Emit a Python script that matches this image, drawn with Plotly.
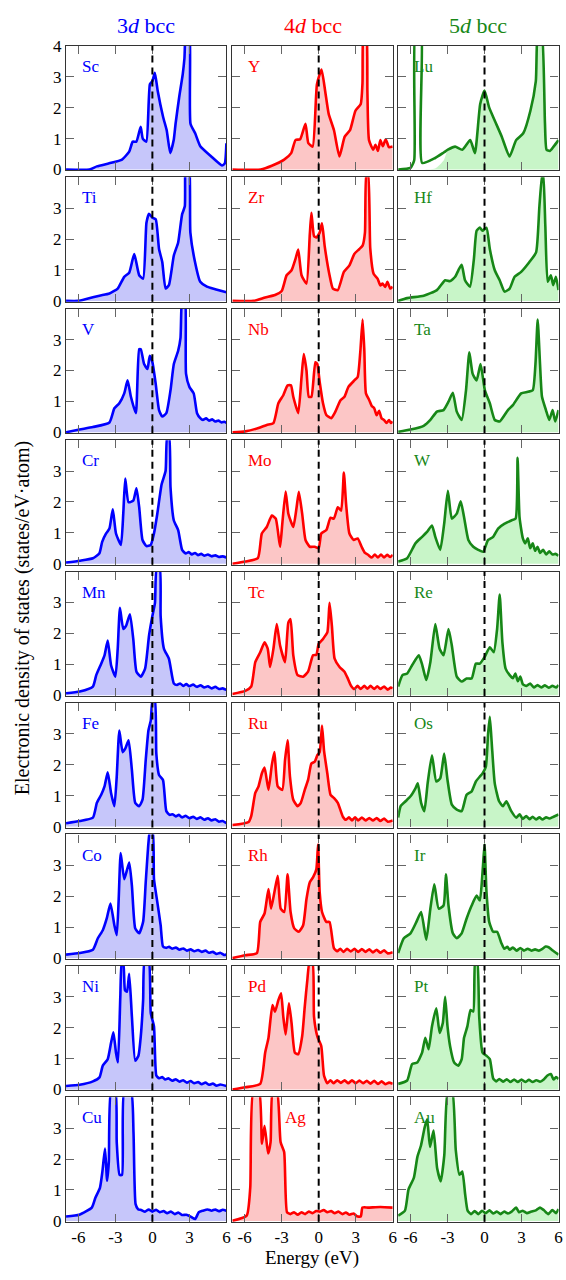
import plotly.graph_objects as go

# ---------------- data (energy in eV, DOS in states/eV·atom) ----------------
E_Sc = [-7, -5.1, -4.5, -3.5, -2.46, -1.88, -1.59, -1.3, -0.95, -0.78, -0.49, -0.2, 0, 0.2, 0.43, 0.87, 1.16, 1.45, 1.73, 1.88, 2.17, 2.46, 2.6, 2.75, 2.98, 3.09, 3.47, 3.9, 4.77, 5.64, 5.87, 6.0]
D_Sc = [0, 0, 0.1, 0.2, 0.32, 0.58, 0.9, 0.9, 1.38, 1.0, 0.9, 2.76, 2.86, 3.13, 2.55, 1.7, 1.27, 0.53, 0.95, 1.48, 2.33, 3.08, 3.6, 4.6, 4.6, 1.48, 1.17, 0.74, 0.42, 0.13, 0.2, 0.85]

E_Y = [-7, -4.7, -3.8, -2.8, -2.23, -1.88, -1.5, -1.07, -0.84, -0.49, -0.14, 0.23, 0.52, 0.81, 1.24, 1.68, 2.11, 2.54, 2.98, 3.41, 3.55, 3.65, 3.84, 3.95, 4.08, 4.42, 4.6, 4.8, 5.0, 5.2, 5.43, 5.7, 6.0]
D_Y = [0, 0, 0.12, 0.32, 0.53, 0.95, 0.98, 1.48, 0.85, 0.74, 2.76, 3.23, 2.55, 1.8, 1.27, 0.42, 1.06, 1.27, 1.9, 2.12, 2.8, 4.6, 4.6, 2.5, 0.95, 0.64, 0.8, 0.6, 0.95, 0.75, 0.98, 0.72, 0.74]

E_Lu = [-7, -6.0, -5.7, -5.58, -5.15, -5.05, -4.0, -3.3, -2.97, -2.38, -1.8, -1.16, -0.78, -0.35, 0, 0.38, 0.81, 1.4, 2.03, 2.56, 3.14, 3.72, 4.16, 4.35, 4.6, 4.9, 5.03, 5.3, 5.6, 6.0]
D_Lu = [0, 0.05, 0.3, 4.6, 4.6, 0.21, 0.37, 0.55, 0.64, 0.74, 0.64, 0.95, 0.53, 2.12, 2.55, 2.0, 1.6, 1.06, 0.42, 0.95, 1.17, 1.9, 2.86, 4.6, 4.6, 1.5, 0.64, 0.6, 0.74, 0.95]
D_Lu_d = [0, 0, 0, 0, 0, 0, 0.03, 0.3, 0.64, 0.74, 0.64, 0.95, 0.53, 2.12, 2.55, 2.0, 1.6, 1.06, 0.42, 0.95, 1.17, 1.9, 2.86, 4.6, 4.6, 1.5, 0.64, 0.6, 0.74, 0.95]

E_Ti = [-7, -6.03, -5.36, -4.29, -3.48, -2.81, -2.28, -1.88, -1.47, -1.07, -0.75, -0.48, -0.27, 0, 0.27, 0.54, 0.8, 1.07, 1.34, 1.74, 2.09, 2.41, 2.63, 2.72, 2.95, 3.08, 3.43, 3.88, 4.42, 5.09, 6.0]
D_Ti = [0, 0, 0.06, 0.17, 0.24, 0.4, 0.78, 0.91, 1.52, 0.83, 0.72, 2.53, 2.82, 2.69, 2.64, 1.68, 1.26, 0.4, 0.51, 1.47, 1.89, 2.8, 3.06, 4.6, 4.6, 2.21, 1.31, 0.62, 0.46, 0.38, 0.28]

E_Zr = [-7, -5.28, -4.34, -3.54, -3.0, -2.6, -2.2, -1.88, -1.66, -1.39, -0.99, -0.72, -0.59, -0.38, -0.19, 0.08, 0.27, 0.48, 0.88, 1.15, 1.55, 2.04, 2.49, 2.89, 3.3, 3.56, 3.75, 3.87, 4.0, 4.18, 4.45, 4.77, 5.0, 5.17, 5.4, 5.57, 5.8, 6.0]
D_Zr = [0, 0, 0.11, 0.19, 0.32, 0.83, 0.99, 1.36, 1.66, 0.83, 0.56, 2.16, 2.85, 2.1, 2.05, 2.21, 2.51, 1.79, 0.83, 0.4, 0.35, 0.94, 1.15, 1.52, 1.68, 1.79, 2.21, 4.1, 4.1, 1.7, 0.88, 0.72, 0.5, 0.56, 0.45, 0.62, 0.4, 0.46]

E_Hf = [-7, -6.27, -4.93, -3.86, -3.19, -2.79, -2.38, -2.12, -1.85, -1.58, -1.18, -0.86, -0.64, -0.38, -0.16, 0.16, 0.43, 0.83, 1.23, 1.63, 2.04, 2.44, 2.97, 3.64, 4.18, 4.45, 4.68, 4.75, 4.93, 5.12, 5.38, 5.57, 5.79, 6.0]
D_Hf = [0, 0.09, 0.17, 0.35, 0.67, 0.64, 0.78, 0.99, 1.17, 0.67, 0.46, 1.36, 2.27, 2.37, 2.27, 2.37, 1.68, 0.99, 0.67, 0.3, 0.4, 0.78, 0.94, 1.26, 1.57, 3.06, 4.05, 4.05, 2.43, 0.62, 0.83, 0.51, 0.78, 0.35]

E_V = [-7, -5.9, -4.82, -3.48, -3.08, -2.68, -2.28, -2.01, -1.74, -1.34, -1.07, -0.94, -0.67, -0.4, -0.21, 0, 0.27, 0.54, 0.8, 1.13, 1.47, 1.74, 2.09, 2.28, 2.45, 2.63, 2.73, 3.0, 3.35, 3.62, 3.88, 4.1, 4.35, 4.6, 4.85, 5.1, 5.35, 5.6, 5.85, 6.0]
D_V = [0, 0.09, 0.17, 0.32, 0.78, 0.94, 1.26, 1.68, 1.15, 0.62, 2.69, 2.69, 2.21, 2.05, 2.48, 2.27, 1.57, 0.72, 0.51, 0.62, 1.36, 2.21, 2.64, 3.06, 4.6, 4.6, 1.89, 1.47, 1.26, 0.62, 0.46, 0.4, 0.45, 0.38, 0.42, 0.35, 0.38, 0.32, 0.34, 0.3]

E_Nb = [-7, -5.95, -4.88, -4.21, -3.67, -3.27, -2.87, -2.52, -2.25, -2.06, -1.66, -1.39, -1.21, -0.99, -0.8, -0.59, -0.27, -0.11, 0.08, 0.35, 0.62, 1.02, 1.29, 1.77, 2.09, 2.41, 2.89, 3.16, 3.38, 3.56, 3.7, 3.83, 4.1, 4.3, 4.5, 4.7, 4.9, 5.1, 5.3, 5.5, 5.7, 5.85, 6.0]
D_Nb = [0, 0.03, 0.14, 0.24, 0.3, 0.94, 1.2, 1.52, 1.52, 1.15, 0.62, 1.79, 2.53, 2.0, 1.15, 1.15, 2.27, 2.21, 1.63, 0.94, 0.56, 0.46, 0.62, 1.04, 1.15, 1.47, 1.68, 1.79, 2.64, 3.65, 2.64, 1.26, 1.04, 0.85, 0.78, 0.55, 0.7, 0.45, 0.4, 0.3, 0.4, 0.3, 0.35]

E_Ta = [-7, -6.0, -4.93, -4.39, -3.86, -3.32, -2.92, -2.57, -2.25, -1.85, -1.5, -1.23, -0.96, -0.64, -0.32, 0.03, 0.43, 0.83, 1.23, 1.9, 2.3, 2.97, 3.51, 3.91, 4.13, 4.31, 4.5, 4.66, 4.98, 5.25, 5.52, 5.73, 6.0]
D_Ta = [0.02, 0.09, 0.21, 0.4, 0.67, 0.72, 0.99, 1.28, 0.67, 0.4, 1.36, 2.59, 1.89, 1.68, 2.21, 1.36, 0.94, 0.4, 0.35, 0.72, 0.88, 1.26, 1.31, 1.36, 2.21, 3.65, 2.21, 1.15, 0.72, 0.4, 0.72, 0.35, 0.72]

E_Cr = [-7, -5.89, -4.82, -4.29, -4.07, -3.75, -3.48, -3.21, -2.95, -2.55, -2.36, -2.2, -1.93, -1.55, -1.29, -1.07, -0.8, -0.48, -0.13, 0.13, 0.4, 0.75, 1.07, 1.2, 1.36, 1.47, 1.74, 2.09, 2.41, 2.7, 2.95, 3.2, 3.45, 3.7, 3.95, 4.2, 4.5, 4.8, 5.1, 5.4, 5.7, 6.0]
D_Cr = [0.04, 0.1, 0.18, 0.34, 0.71, 0.98, 1.14, 1.76, 0.98, 0.61, 1.62, 2.76, 1.99, 2.04, 2.44, 1.83, 0.77, 0.57, 0.61, 0.98, 1.62, 2.57, 3.0, 4.1, 4.1, 2.47, 1.4, 1.09, 0.45, 0.33, 0.38, 0.3, 0.35, 0.28, 0.32, 0.26, 0.3, 0.24, 0.27, 0.22, 0.24, 0.2]

E_Mo = [-7, -5.95, -4.93, -4.61, -4.21, -3.8, -3.48, -3.13, -2.95, -2.68, -2.46, -2.06, -1.79, -1.61, -1.34, -1.07, -0.72, -0.32, 0, 0.21, 0.62, 0.96, 1.23, 1.55, 1.82, 2.04, 2.22, 2.49, 2.84, 3.16, 3.48, 3.75, 4.0, 4.3, 4.55, 4.8, 5.05, 5.3, 5.55, 5.8, 6.0]
D_Mo = [0, 0.07, 0.18, 0.98, 1.19, 1.56, 1.46, 0.55, 1.3, 2.34, 1.62, 1.19, 1.83, 2.33, 1.62, 0.77, 0.55, 0.55, 0.5, 0.98, 1.09, 1.49, 1.46, 1.83, 1.72, 2.95, 1.94, 0.98, 0.77, 0.82, 0.55, 0.35, 0.29, 0.2, 0.3, 0.2, 0.3, 0.2, 0.29, 0.22, 0.29]

E_W = [-7, -6.27, -5.6, -5.06, -4.66, -4.26, -3.99, -3.59, -3.27, -2.97, -2.65, -2.25, -1.93, -1.66, -1.31, -0.91, -0.51, -0.11, 0.29, 0.7, 1.1, 1.63, 2.17, 2.52, 2.68, 2.84, 3.11, 3.3, 3.51, 3.7, 3.91, 4.1, 4.3, 4.5, 4.75, 5.0, 5.25, 5.5, 5.75, 6.0]
D_W = [0.07, 0.18, 0.66, 0.87, 1.03, 1.24, 0.87, 0.45, 1.3, 2.36, 1.46, 1.62, 2.02, 1.51, 0.77, 0.55, 0.45, 0.39, 0.77, 0.87, 1.14, 1.3, 1.4, 1.46, 3.43, 1.5, 0.82, 0.66, 0.82, 0.5, 0.66, 0.42, 0.55, 0.35, 0.45, 0.3, 0.4, 0.3, 0.32, 0.26]

E_Mn = [-7, -5.89, -4.82, -4.55, -4.15, -3.88, -3.62, -3.35, -3.0, -2.81, -2.63, -2.36, -2.14, -1.82, -1.55, -1.29, -0.94, -0.59, -0.27, 0, 0.21, 0.35, 0.6, 0.67, 0.94, 1.34, 1.74, 2.0, 2.25, 2.5, 2.75, 3.0, 3.3, 3.6, 3.9, 4.2, 4.5, 4.8, 5.1, 5.4, 5.7, 6.0]
D_Mn = [0.06, 0.12, 0.28, 0.65, 1.02, 1.29, 1.77, 0.97, 0.6, 1.5, 2.83, 2.14, 2.24, 2.62, 1.82, 0.76, 0.6, 0.86, 1.93, 2.56, 2.99, 4.1, 4.1, 2.56, 1.5, 1.18, 0.38, 0.33, 0.38, 0.3, 0.36, 0.29, 0.34, 0.27, 0.32, 0.25, 0.29, 0.22, 0.27, 0.2, 0.22, 0.17]

E_Tc = [-7, -5.95, -5.47, -5.14, -4.74, -4.39, -4.13, -3.94, -3.67, -3.4, -3.13, -2.73, -2.46, -2.28, -2.06, -1.71, -1.26, -0.86, -0.46, -0.19, 0, 0.35, 0.7, 0.88, 1.07, 1.29, 1.69, 2.09, 2.35, 2.63, 2.9, 3.15, 3.4, 3.7, 3.95, 4.2, 4.5, 4.75, 5.0, 5.3, 5.6, 5.85, 6.0]
D_Tc = [0.04, 0.14, 0.28, 1.07, 1.39, 1.71, 1.5, 0.91, 1.5, 2.3, 1.61, 1.07, 2.35, 2.46, 1.29, 0.65, 0.6, 0.76, 1.29, 1.31, 1.66, 1.82, 2.03, 2.99, 2.24, 1.18, 0.91, 0.76, 0.55, 0.3, 0.2, 0.3, 0.2, 0.3, 0.21, 0.3, 0.2, 0.29, 0.2, 0.28, 0.18, 0.25, 0.22]

E_Re = [-7, -6.65, -6.27, -5.87, -5.33, -5.06, -4.72, -4.39, -3.99, -3.64, -3.32, -2.92, -2.65, -2.25, -1.85, -1.45, -1.04, -0.7, -0.38, 0, 0.43, 0.75, 1.02, 1.23, 1.45, 1.71, 2.04, 2.3, 2.5, 2.7, 2.9, 3.11, 3.4, 3.7, 4.0, 4.3, 4.6, 4.9, 5.2, 5.5, 5.8, 6.0]
D_Re = [0.28, 0.65, 0.7, 0.97, 1.29, 1.0, 0.49, 1.07, 2.3, 1.5, 1.29, 2.14, 1.61, 0.6, 0.44, 0.54, 0.54, 1.02, 1.02, 1.23, 1.55, 1.39, 2.14, 3.26, 1.71, 0.86, 0.65, 0.55, 0.7, 0.45, 0.6, 0.35, 0.3, 0.38, 0.25, 0.33, 0.25, 0.32, 0.24, 0.3, 0.25, 0.33]

E_Fe = [-7, -5.89, -4.82, -4.5, -4.15, -3.88, -3.62, -3.35, -3.08, -2.89, -2.68, -2.41, -2.2, -1.93, -1.66, -1.39, -1.07, -0.8, -0.54, -0.32, -0.13, 0.02, 0.2, 0.32, 0.54, 0.86, 1.13, 1.4, 1.65, 1.9, 2.15, 2.4, 2.7, 3.0, 3.3, 3.6, 3.9, 4.2, 4.5, 4.8, 5.1, 5.4, 5.7, 6.0]
D_Fe = [0.11, 0.18, 0.29, 0.77, 1.03, 1.3, 1.76, 1.09, 0.66, 1.62, 3.11, 2.41, 2.52, 2.79, 1.83, 0.77, 0.66, 0.87, 2.15, 3.11, 3.43, 4.1, 4.1, 2.36, 1.67, 1.51, 0.5, 0.38, 0.4, 0.33, 0.38, 0.3, 0.35, 0.27, 0.32, 0.25, 0.3, 0.22, 0.27, 0.2, 0.24, 0.16, 0.18, 0.11]

E_Ru = [-7, -5.68, -5.47, -5.14, -4.88, -4.61, -4.39, -4.07, -3.8, -3.59, -3.32, -2.95, -2.73, -2.52, -2.33, -2.06, -1.71, -1.45, -1.13, -0.86, -0.59, -0.32, -0.11, 0.08, 0.27, 0.43, 0.7, 0.96, 1.23, 1.55, 1.96, 2.2, 2.45, 2.7, 2.95, 3.2, 3.5, 3.8, 4.1, 4.4, 4.7, 5.0, 5.3, 5.6, 6.0]
D_Ru = [0.05, 0.15, 0.34, 1.09, 1.3, 1.72, 1.91, 1.19, 1.99, 2.41, 1.3, 1.19, 2.15, 2.79, 1.62, 0.87, 0.66, 0.77, 1.19, 1.51, 2.04, 2.1, 2.31, 2.41, 3.27, 2.47, 1.72, 1.03, 0.93, 0.77, 0.32, 0.22, 0.3, 0.2, 0.3, 0.2, 0.29, 0.2, 0.28, 0.2, 0.28, 0.18, 0.26, 0.16, 0.2]

E_Os = [-7, -6.8, -6.4, -6.0, -5.6, -5.41, -5.14, -4.88, -4.61, -4.26, -3.91, -3.59, -3.27, -3.0, -2.65, -2.25, -1.85, -1.45, -1.04, -0.7, -0.38, -0.16, 0.11, 0.29, 0.43, 0.59, 0.83, 1.18, 1.5, 1.77, 2.17, 2.57, 2.85, 3.1, 3.38, 3.65, 3.9, 4.18, 4.45, 4.7, 5.0, 5.25, 5.6, 6.0]
D_Os = [0.29, 0.66, 0.82, 0.98, 1.24, 1.4, 0.77, 0.5, 1.4, 2.31, 1.46, 1.56, 2.36, 1.51, 0.71, 0.55, 0.5, 1.03, 1.14, 1.46, 1.62, 1.72, 1.94, 3.0, 3.55, 2.68, 1.4, 0.82, 0.66, 0.82, 0.5, 0.29, 0.4, 0.25, 0.34, 0.24, 0.32, 0.23, 0.3, 0.23, 0.3, 0.26, 0.32, 0.39]

E_Co = [-7, -5.89, -4.82, -4.42, -4.02, -3.7, -3.4, -3.08, -2.89, -2.73, -2.57, -2.28, -1.88, -1.66, -1.39, -1.07, -0.75, -0.54, -0.32, -0.2, 0.02, 0.13, 0.4, 0.67, 0.86, 1.1, 1.35, 1.6, 1.9, 2.2, 2.5, 2.8, 3.1, 3.4, 3.7, 4.0, 4.3, 4.6, 4.9, 5.2, 5.5, 5.8, 6.0]
D_Co = [0.11, 0.16, 0.27, 0.64, 0.9, 1.28, 1.76, 1.06, 0.74, 1.91, 3.4, 2.55, 3.09, 2.34, 0.96, 0.8, 1.17, 2.45, 3.72, 4.1, 4.1, 2.55, 1.81, 1.06, 0.37, 0.33, 0.36, 0.3, 0.34, 0.27, 0.31, 0.24, 0.28, 0.22, 0.26, 0.2, 0.24, 0.17, 0.2, 0.13, 0.17, 0.1, 0.11]

E_Rh = [-7, -5.95, -5.01, -4.74, -4.39, -4.07, -3.86, -3.59, -3.32, -3.08, -2.79, -2.52, -2.28, -1.98, -1.61, -1.26, -0.99, -0.72, -0.46, -0.19, -0.05, 0.08, 0.27, 0.62, 0.88, 1.23, 1.5, 1.75, 2.0, 2.3, 2.6, 2.9, 3.2, 3.5, 3.8, 4.1, 4.4, 4.7, 5.0, 5.3, 5.6, 6.0]
D_Rh = [0, 0.09, 0.16, 1.17, 1.44, 2.23, 1.6, 2.13, 2.66, 1.6, 1.49, 2.71, 1.49, 0.96, 0.85, 1.06, 1.91, 2.45, 2.61, 2.87, 3.67, 2.13, 1.49, 1.17, 1.17, 0.32, 0.22, 0.3, 0.2, 0.3, 0.21, 0.3, 0.2, 0.29, 0.2, 0.28, 0.18, 0.27, 0.17, 0.25, 0.15, 0.19]

E_Ir = [-7, -6.54, -6.0, -5.52, -5.14, -4.72, -4.39, -4.07, -3.72, -3.32, -3.13, -2.92, -2.57, -2.25, -1.85, -1.45, -1.04, -0.64, -0.38, -0.16, 0, 0.16, 0.38, 0.7, 1.02, 1.37, 1.6, 1.85, 2.04, 2.3, 2.6, 2.9, 3.2, 3.5, 3.8, 4.1, 4.4, 4.7, 4.95, 5.2, 5.5, 5.75, 6.0]
D_Ir = [0.16, 0.64, 0.8, 1.17, 1.49, 0.59, 1.6, 2.39, 1.6, 1.7, 2.71, 1.7, 0.8, 0.64, 0.8, 1.28, 1.7, 2.02, 1.86, 2.77, 3.67, 2.13, 1.17, 0.85, 0.85, 0.48, 0.3, 0.36, 0.27, 0.34, 0.24, 0.32, 0.24, 0.3, 0.24, 0.28, 0.24, 0.3, 0.37, 0.35, 0.25, 0.18, 0.11]

E_Ni = [-7, -5.89, -4.82, -4.29, -4.02, -3.62, -3.35, -3.16, -2.95, -2.79, -2.6, -2.48, -2.36, -2.22, -2.06, -1.88, -1.66, -1.39, -1.13, -0.94, -0.75, -0.62, -0.3, -0.13, 0.13, 0.32, 0.55, 0.8, 1.05, 1.3, 1.6, 1.9, 2.2, 2.5, 2.8, 3.1, 3.4, 3.7, 4.0, 4.3, 4.6, 4.9, 5.2, 5.5, 6.0]
D_Ni = [0.11, 0.15, 0.26, 0.39, 0.77, 0.98, 1.51, 1.85, 1.19, 0.87, 3.0, 4.1, 4.1, 3.21, 3.16, 3.74, 2.36, 0.93, 1.09, 1.72, 2.89, 4.2, 4.2, 2.47, 2.04, 0.45, 0.36, 0.4, 0.32, 0.36, 0.28, 0.33, 0.25, 0.3, 0.22, 0.27, 0.2, 0.24, 0.17, 0.22, 0.15, 0.19, 0.12, 0.16, 0.11]

E_Pd = [-7, -5.95, -4.74, -4.34, -4.07, -3.75, -3.54, -3.27, -3.05, -2.87, -2.68, -2.41, -2.2, -1.93, -1.66, -1.34, -1.13, -0.91, -0.75, -0.5, -0.38, -0.11, 0.21, 0.43, 0.7, 0.95, 1.2, 1.5, 1.8, 2.1, 2.4, 2.7, 3.0, 3.3, 3.6, 3.9, 4.2, 4.5, 4.8, 5.1, 5.4, 5.7, 6.0]
D_Pd = [0, 0.07, 0.18, 1.19, 1.67, 2.73, 2.52, 2.89, 3.11, 2.36, 1.78, 2.79, 2.15, 1.19, 1.14, 1.72, 2.68, 3.59, 4.1, 4.1, 2.36, 1.72, 1.4, 0.45, 0.2, 0.3, 0.2, 0.3, 0.21, 0.3, 0.2, 0.3, 0.2, 0.29, 0.2, 0.28, 0.19, 0.28, 0.18, 0.26, 0.17, 0.22, 0.18]

E_Pt = [-7, -6.27, -5.87, -5.46, -5.06, -4.8, -4.53, -4.26, -3.91, -3.64, -3.38, -3.19, -3.0, -2.79, -2.46, -2.12, -1.85, -1.66, -1.39, -1.13, -0.91, -0.75, -0.6, -0.43, -0.16, 0.16, 0.43, 0.7, 0.95, 1.2, 1.5, 1.8, 2.1, 2.4, 2.7, 3.0, 3.3, 3.6, 3.9, 4.2, 4.5, 4.8, 5.1, 5.38, 5.6, 5.8, 6.0]
D_Pt = [0.18, 0.29, 0.82, 0.87, 1.19, 1.67, 1.3, 2.04, 2.63, 1.83, 2.15, 3.0, 2.04, 1.4, 0.87, 0.77, 0.98, 1.67, 2.04, 2.57, 2.52, 4.2, 4.2, 2.36, 1.19, 1.09, 0.98, 0.36, 0.26, 0.34, 0.25, 0.33, 0.24, 0.32, 0.24, 0.32, 0.24, 0.31, 0.24, 0.3, 0.25, 0.32, 0.45, 0.5, 0.32, 0.4, 0.34]

E_Cu = [-7, -5.92, -4.91, -4.62, -4.25, -4.05, -3.84, -3.67, -3.53, -3.35, -3.0, -2.89, -2.66, -2.46, -2.28, -1.73, -1.53, -1.36, -1.16, -0.9, -0.6, -0.3, 0.0, 0.3, 0.6, 0.9, 1.2, 1.5, 1.8, 2.1, 2.4, 2.75, 3.1, 3.47, 3.76, 4.1, 4.48, 4.8, 5.1, 5.4, 5.7, 6.0]
D_Cu = [0.14, 0.2, 0.43, 0.75, 1.07, 1.6, 2.34, 1.3, 1.92, 4.2, 4.2, 2.55, 1.49, 1.49, 4.2, 4.2, 2.87, 0.54, 0.38, 0.35, 0.3, 0.37, 0.3, 0.36, 0.28, 0.32, 0.25, 0.3, 0.22, 0.27, 0.19, 0.2, 0.14, 0.06, 0.28, 0.33, 0.37, 0.33, 0.37, 0.31, 0.36, 0.33]

E_Ag = [-7, -5.84, -5.55, -5.3, -4.83, -4.6, -4.39, -4.1, -3.9, -3.73, -3.38, -3.09, -2.8, -2.57, -2.3, -2.0, -1.7, -1.4, -1.1, -0.8, -0.5, -0.2, 0.1, 0.4, 0.7, 1.0, 1.3, 1.6, 1.9, 2.2, 2.5, 2.83, 3.1, 3.41, 3.55, 4.0, 5.0, 6.0]
D_Ag = [0.0, 0.17, 1.07, 4.2, 4.2, 2.5, 3.08, 2.18, 2.55, 4.2, 4.2, 2.55, 2.23, 0.28, 0.22, 0.28, 0.2, 0.28, 0.22, 0.3, 0.25, 0.32, 0.3, 0.35, 0.28, 0.32, 0.25, 0.3, 0.22, 0.27, 0.2, 0.24, 0.15, 0.14, 0.43, 0.43, 0.45, 0.43]

E_Au = [-7, -6.45, -6.16, -5.73, -5.44, -5.15, -4.85, -4.65, -4.42, -4.13, -3.84, -3.55, -3.26, -2.97, -2.62, -2.33, -2.03, -1.8, -1.57, -1.37, -1.1, -0.8, -0.5, -0.2, 0.1, 0.4, 0.7, 1.0, 1.3, 1.6, 1.9, 2.2, 2.56, 2.8, 3.1, 3.43, 3.8, 4.2, 4.5, 4.8, 5.17, 5.5, 5.8, 6.0]
D_Au = [0.17, 0.33, 1.02, 1.39, 2.07, 2.44, 3.03, 3.29, 2.39, 2.92, 1.7, 1.28, 2.13, 4.2, 4.2, 2.29, 1.49, 1.6, 0.86, 0.33, 0.22, 0.32, 0.22, 0.33, 0.25, 0.34, 0.24, 0.3, 0.22, 0.3, 0.24, 0.3, 0.43, 0.28, 0.33, 0.25, 0.3, 0.35, 0.43, 0.35, 0.22, 0.35, 0.25, 0.38]

elements = [
    ["Sc", "Y", "Lu"], ["Ti", "Zr", "Hf"], ["V", "Nb", "Ta"],
    ["Cr", "Mo", "W"], ["Mn", "Tc", "Re"], ["Fe", "Ru", "Os"],
    ["Co", "Rh", "Ir"], ["Ni", "Pd", "Pt"], ["Cu", "Ag", "Au"],
]
column_titles = ["3<i>d</i> bcc", "4<i>d</i> bcc", "5<i>d</i> bcc"]
x_tick_vals = [-6, -3, 0, 3, 6]
x_tick_text = ["-6", "-3", "0", "3", "6"]

series = {
    "Sc": (E_Sc, D_Sc, D_Sc), "Y": (E_Y, D_Y, D_Y), "Lu": (E_Lu, D_Lu, D_Lu_d),
    "Ti": (E_Ti, D_Ti, D_Ti), "Zr": (E_Zr, D_Zr, D_Zr), "Hf": (E_Hf, D_Hf, D_Hf),
    "V": (E_V, D_V, D_V), "Nb": (E_Nb, D_Nb, D_Nb), "Ta": (E_Ta, D_Ta, D_Ta),
    "Cr": (E_Cr, D_Cr, D_Cr), "Mo": (E_Mo, D_Mo, D_Mo), "W": (E_W, D_W, D_W),
    "Mn": (E_Mn, D_Mn, D_Mn), "Tc": (E_Tc, D_Tc, D_Tc), "Re": (E_Re, D_Re, D_Re),
    "Fe": (E_Fe, D_Fe, D_Fe), "Ru": (E_Ru, D_Ru, D_Ru), "Os": (E_Os, D_Os, D_Os),
    "Co": (E_Co, D_Co, D_Co), "Rh": (E_Rh, D_Rh, D_Rh), "Ir": (E_Ir, D_Ir, D_Ir),
    "Ni": (E_Ni, D_Ni, D_Ni), "Pd": (E_Pd, D_Pd, D_Pd), "Pt": (E_Pt, D_Pt, D_Pt),
    "Cu": (E_Cu, D_Cu, D_Cu), "Ag": (E_Ag, D_Ag, D_Ag), "Au": (E_Au, D_Au, D_Au),
}

# ---------------- style ----------------
W, H = 566, 1280
FONT = "'Liberation Serif', 'Times New Roman', Times, serif"
line_colors = ["#0000ff", "#ff0000", "#178717"]
fill_colors = ["#c6c6fa", "#fcc6c6", "#c8f5c8"]
col_px = [(66.5, 228.0), (234.0, 395.5), (401.0, 562.5)]
row_bottom0, row_pitch, panel_h = 163.7, 133.3, 126.3

fig = go.Figure()
layout = dict(
    width=W, height=H, margin=dict(l=0, r=0, t=0, b=0),
    paper_bgcolor="white", plot_bgcolor="white", showlegend=False,
    font=dict(family=FONT, color="black"),
)
shapes, annotations = [], []

for r in range(9):
    for c in range(3):
        i = r * 3 + c + 1
        sfx = "" if i == 1 else str(i)
        name = elements[r][c]
        E, D, Dfill = series[name]
        fig.add_trace(go.Scatter(x=E, y=Dfill, mode="none", fill="tozeroy",
                                 fillcolor=fill_colors[c], hoverinfo="skip",
                                 line=dict(shape="spline", smoothing=0.5),
                                 xaxis="x" + sfx, yaxis="y" + sfx))
        fig.add_trace(go.Scatter(x=E, y=D, mode="lines",
                                 line=dict(color=line_colors[c], width=2.6,
                                           shape="spline", smoothing=0.5),
                                 xaxis="x" + sfx, yaxis="y" + sfx, name=name))
        x0, x1 = col_px[c]
        yb = row_bottom0 + r * row_pitch
        yt = yb - panel_h
        common = dict(ticks="inside", ticklen=8, tickwidth=1.3, tickcolor="#666",
                      showline=True, linecolor="#333", linewidth=1.3, mirror="ticks",
                      showgrid=False, zeroline=False,
                      tickfont=dict(family=FONT, size=17, color="black"))
        layout["xaxis" + sfx] = dict(
            domain=[x0 / W, x1 / W], range=[-7, 6], anchor="y" + sfx,
            tickmode="array", tickvals=x_tick_vals, ticktext=x_tick_text,
            showticklabels=(r == 8), **common)
        yt_vals = [0, 1, 2, 3, 4] if r == 0 else [0, 1, 2, 3]
        layout["yaxis" + sfx] = dict(
            domain=[1 - yb / H, 1 - yt / H], range=[-0.03, 4.0], anchor="x" + sfx,
            tickmode="array", tickvals=yt_vals, ticktext=[str(v) for v in yt_vals],
            showticklabels=(c == 0), **common)
        shapes.append(dict(type="line", xref="x" + sfx, yref="y" + sfx + " domain",
                           x0=0, x1=0, y0=0, y1=1, layer="above",
                           line=dict(color="black", width=2, dash="7px,5px")))
        lx = 0.316 if name == "Ag" else 0.084
        annotations.append(dict(text=name, xref="x" + sfx + " domain",
                                yref="y" + sfx + " domain", x=lx, y=0.834,
                                xanchor="left", yanchor="middle", showarrow=False,
                                font=dict(family=FONT, size=17, color=line_colors[c])))

for c in range(3):
    x0, x1 = col_px[c]
    annotations.append(dict(text=column_titles[c], xref="paper", yref="paper",
                            x=(x0 + x1) / 2 / W, y=1 - 17 / H, xanchor="center",
                            yanchor="middle", showarrow=False,
                            font=dict(family=FONT, size=22, color=line_colors[c])))

annotations.append(dict(text="Electronic density of states (states/eV·atom)",
                        xref="paper", yref="paper", x=22 / W, y=1 - 618 / H,
                        textangle=-90, xanchor="center", yanchor="middle",
                        showarrow=False, font=dict(family=FONT, size=20, color="black")))
annotations.append(dict(text="Energy (eV)", xref="paper", yref="paper",
                        x=314 / W, y=0.0, xanchor="center", yanchor="bottom",
                        yshift=0, showarrow=False,
                        font=dict(family=FONT, size=19, color="black")))

layout["shapes"] = shapes
layout["annotations"] = annotations
fig.update_layout(**layout)
fig.write_html("out.html")
